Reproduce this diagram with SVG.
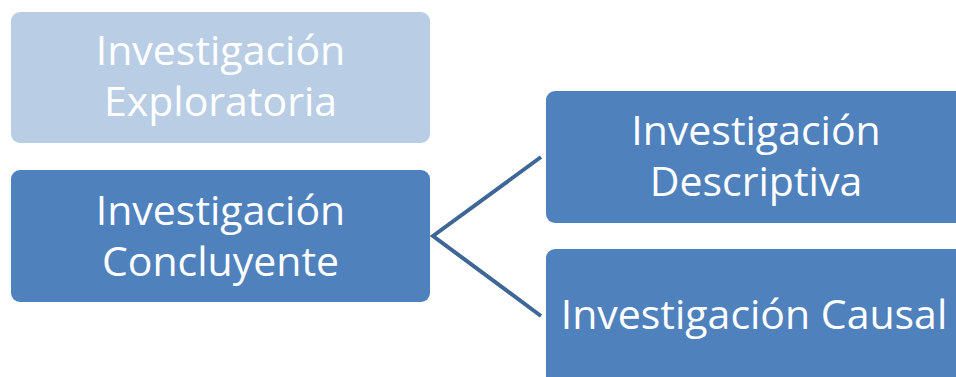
<svg xmlns="http://www.w3.org/2000/svg" width="956" height="377" viewBox="0 0 956 377">
<style>
.t{font-family:"Open Sans","Noto Sans","Liberation Sans",sans-serif;font-size:41px;fill:#fff;text-anchor:middle}
.dark{fill:#4F81BD}
.light{fill:#B9CDE5}
.c{stroke:#3E6797;stroke-width:4;fill:none}
</style>
<g id="exploratoria">
<rect class="light" x="11" y="12" width="419" height="131" rx="9"/>
<text class="t" x="220.5" y="65">Investigación</text>
<text class="t" x="220.5" y="116">Exploratoria</text>
</g>
<g id="concluyente">
<rect class="dark" x="11" y="170" width="419" height="132" rx="9"/>
<text class="t" x="220.5" y="225">Investigación</text>
<text class="t" x="220.5" y="276">Concluyente</text>
</g>
<g id="descriptiva">
<rect class="dark" x="546" y="91" width="430" height="132" rx="9"/>
<text class="t" x="756" y="145">Investigación</text>
<text class="t" x="756" y="196">Descriptiva</text>
</g>
<g id="causal">
<rect class="dark" x="546" y="249" width="430" height="140" rx="9"/>
<text class="t" x="754" y="329">Investigación Causal</text>
</g>
<g id="connectors">
<path class="c" d="M541,157 L433,236 L541,316"/>
</g>
</svg>
